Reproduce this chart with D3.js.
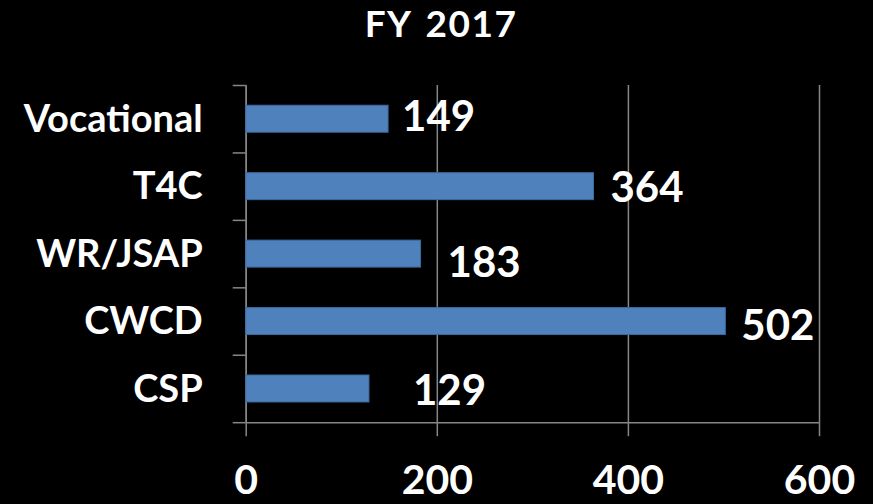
<!DOCTYPE html>
<html>
<head>
<meta charset="utf-8">
<script src="https://cdn.jsdelivr.net/npm/d3@7"></script>
<style>
  html, body { margin: 0; padding: 0; background: #000; }
  svg { display: block; }
  svg text { font-family: Lato, "Open Sans", sans-serif; font-weight: 700; }
  .axis path, .axis line { stroke: #868686; stroke-width: 1.5; }
  .axis text { fill: #fff; }
</style>
</head>
<body>
<div id="chart"></div>
<script>
const categories = ['Vocational', 'T4C', 'WR/JSAP', 'CWCD', 'CSP']
const students = [149, 364, 183, 502, 129]
const xTicks = [0, 200, 400, 600]
// label nudges (gap from bar end, vertical shift) as placed in the original
const labelGap = [14, 17, 27, 16, 44]
const labelShift = [-3, 1, 8, 4, 1]

const width = 873, height = 504
const margin = { top: 85, left: 245.7, right: 54, bottom: 81.8 }
const plotW = width - margin.left - margin.right,
    plotH = height - margin.top - margin.bottom

const svg = d3.select('#chart')
    .append('svg')
    .attr('width', width)
    .attr('height', height)
    .style('background', '#000')

svg.append('text')
    .attr('x', 441)
    .attr('y', 37)
    .attr('text-anchor', 'middle')
    .attr('fill', '#fff')
    .style('font-size', '37px')
    .style('letter-spacing', '1.5px')
    .style('word-spacing', '4px')
    .text('FY 2017')

const graph = svg.append('g')
    .attr('transform', 'translate(' + margin.left + ', ' + margin.top + ')')

const xS = d3.scaleLinear()
    .domain([0, 600])
    .range([0, plotW])

const yS = d3.scaleBand()
    .domain(categories)
    .range([0, plotH])
    .paddingInner(0.6)
    .paddingOuter(0.3)

const yBound = d3.scaleLinear()
    .domain([0, categories.length])
    .range([0, plotH])

// vertical gridlines
graph.append('g')
    .classed('axis', true)
    .call(d3.axisBottom(xS).tickValues(xTicks).tickSize(-plotH).tickFormat(''))
    .attr('transform', 'translate(0, ' + plotH + ')')
    .call(g => g.select('.domain').remove())

// category boundary ticks on the left
graph.append('g')
    .classed('axis', true)
    .call(d3.axisLeft(yBound).tickValues(d3.range(0, categories.length + 1)).tickSize(13).tickSizeOuter(0).tickFormat(''))

// bottom axis
graph.append('g')
    .classed('axis', true)
    .attr('transform', 'translate(0, ' + plotH + ')')
    .call(
        d3.axisBottom(xS)
            .tickValues(xTicks)
            .tickSize(14)
            .tickSizeOuter(0)
            .tickPadding(28)
    )
    .call(g => g.selectAll('text').style('font-size', '41px').attr('dy', '0.72em'))

// category labels
graph.append('g')
    .classed('axis', true)
    .call(d3.axisLeft(yS).tickSize(0).tickPadding(43))
    .call(g => g.select('.domain').remove())
    .call(g => g.selectAll('text').style('font-size', '38px').attr('dy', '0.35em'))

graph.selectAll('rect.bar')
    .data(students)
    .enter()
    .append('rect')
    .classed('bar', true)
    .attr('x', xS(0))
    .attr('y', (_, i) => yS(categories[i]))
    .attr('width', d => xS(d) - xS(0))
    .attr('height', yS.bandwidth())
    .attr('fill', '#4f81bd')
    .attr('stroke', '#3d6a9e')
    .attr('stroke-width', 1)

graph.selectAll('text.val')
    .data(students)
    .enter()
    .append('text')
    .classed('val', true)
    .attr('x', (d, i) => xS(d) + labelGap[i])
    .attr('y', (_, i) => yS(categories[i]) + yS.bandwidth() / 2 + labelShift[i])
    .attr('dy', '0.36em')
    .attr('fill', '#fff')
    .style('font-size', '42px')
    .text(d => d)
</script>
</body>
</html>
